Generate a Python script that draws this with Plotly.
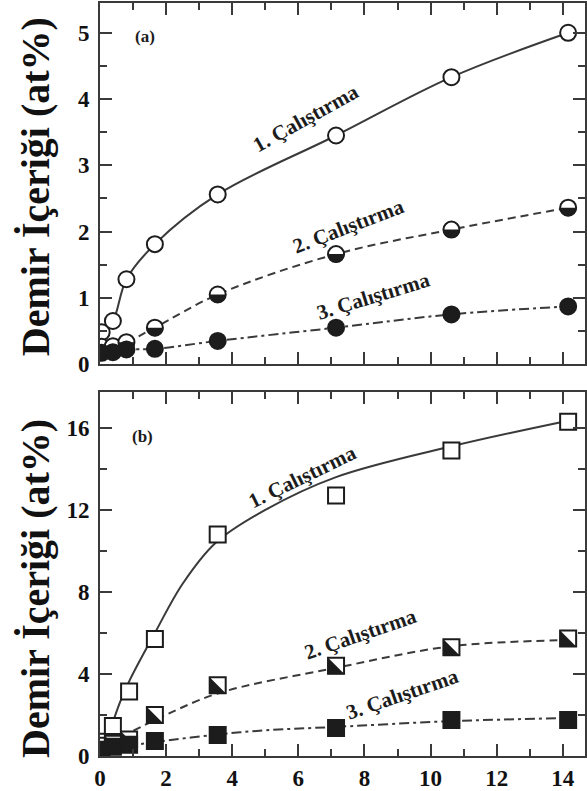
import plotly.graph_objects as go

# ---------------- data ----------------
# Panel (a): circles
xa = [0.05, 0.39, 0.80, 1.66, 3.56, 7.14, 10.63, 14.16]
a_run1 = [0.48, 0.65, 1.28, 1.81, 2.56, 3.45, 4.33, 5.00]
a_run2 = [0.26, 0.27, 0.33, 0.55, 1.05, 1.66, 2.03, 2.36]
a_run3 = [0.17, 0.18, 0.22, 0.23, 0.35, 0.55, 0.75, 0.87]

# Panel (b): squares
xb = [0.05, 0.39, 0.88, 1.66, 3.56, 7.14, 10.63, 14.16]
b_run1 = [0.70, 1.46, 3.15, 5.70, 10.80, 12.70, 14.90, 16.30]
b_run2 = [0.50, 0.60, 0.80, 2.00, 3.45, 4.40, 5.30, 5.73]
b_run3 = [0.30, 0.45, 0.55, 0.73, 1.02, 1.36, 1.75, 1.75]

# Panel (b): fitted curves
fb1_x = [0.30, 0.60, 0.90, 1.66, 2.50, 3.50, 5.00, 7.14, 10.63, 14.16]
fb1_y = [1.20, 2.60, 3.70, 6.00, 8.40, 10.40, 12.00, 13.60, 15.10, 16.35]
fb2_x = [0.30, 0.90, 1.66, 3.56, 7.14, 10.63, 14.16]
fb2_y = [0.70, 1.15, 1.75, 3.05, 4.30, 5.35, 5.65]
fb3_x = [0.20, 0.90, 1.66, 3.56, 5.00, 7.14, 10.63, 14.16]
fb3_y = [0.30, 0.50, 0.68, 1.05, 1.25, 1.42, 1.70, 1.85]

run_labels = ["1. Çalıştırma", "2. Çalıştırma", "3. Çalıştırma"]
y_title = "Demir İçeriği (at%)"
x_ticks = [0, 2, 4, 6, 8, 10, 12, 14]
ya_ticks = [0, 1, 2, 3, 4, 5]
yb_ticks = [0, 4, 8, 12, 16]

# ---------------- styling ----------------
INK = "#1c1c1c"
LINE = "#3a3a3a"
FONT = "Times New Roman, Liberation Serif, serif"
MS = 16

fig = go.Figure()

def line(x, y, dash, xa_, ya_):
    fig.add_trace(go.Scatter(x=x, y=y, mode="lines", xaxis=xa_, yaxis=ya_,
                             line=dict(color=LINE, width=2, dash=dash, shape="spline", smoothing=1.0),
                             hoverinfo="skip", showlegend=False))

def markers(x, y, symbol, fill, xa_, ya_):
    fig.add_trace(go.Scatter(x=x, y=y, mode="markers", xaxis=xa_, yaxis=ya_,
                             marker=dict(symbol=symbol, size=MS, color=fill,
                                         line=dict(color=INK, width=2)),
                             showlegend=False))

# panel (a) lines through points
line(xa, a_run1, "solid", "x", "y")
line(xa, a_run2, "8px,5px", "x", "y")
line(xa, a_run3, "10px,4px,3px,4px", "x", "y")
# panel (b) fitted curves
line(fb1_x, fb1_y, "solid", "x2", "y2")
line(fb2_x, fb2_y, "8px,5px", "x2", "y2")
line(fb3_x, fb3_y, "10px,4px,3px,4px", "x2", "y2")

markers(xa, a_run1, "circle", "white", "x", "y")
markers(xa, a_run2, "circle", "white", "x", "y")
markers(xa, a_run3, "circle", INK, "x", "y")
markers(xb, b_run1, "square", "white", "x2", "y2")
markers(xb, b_run2, "square", "white", "x2", "y2")
markers(xb, b_run3, "square", INK, "x2", "y2")

# half-black markers drawn as pixel-sized shapes anchored at the data points
r = MS / 2 + 0.5
k = 0.5523 * r
half_circle = (f"M {-r},0 C {-r},{-k} {-k},{-r} 0,{-r} "
               f"C {k},{-r} {r},{-k} {r},0 Z")
a = MS / 2 + 0.5
half_square = f"M {-a},{a} L {-a},{-a} L {a},{-a} Z"
shapes = []
for x, y in zip(xa, a_run2):
    shapes.append(dict(type="path", xref="x", yref="y", xsizemode="pixel", ysizemode="pixel",
                       xanchor=x, yanchor=y, path=half_circle,
                       fillcolor=INK, line=dict(width=0), layer="above"))
for x, y in zip(xb, b_run2):
    shapes.append(dict(type="path", xref="x2", yref="y2", xsizemode="pixel", ysizemode="pixel",
                       xanchor=x, yanchor=y, path=half_square,
                       fillcolor=INK, line=dict(width=0), layer="above"))

ann = []
lab_font = dict(family=FONT, size=21, color=INK, weight="bold")
ann += [
    dict(x=6.23, y=3.72, xref="x", yref="y", text=run_labels[0], textangle=-29, showarrow=False, font=lab_font),
    dict(x=7.53, y=2.08, xref="x", yref="y", text=run_labels[1], textangle=-21, showarrow=False, font=lab_font),
    dict(x=8.28, y=1.02, xref="x", yref="y", text=run_labels[2], textangle=-17, showarrow=False, font=lab_font),
    dict(x=6.11, y=13.60, xref="x2", yref="y2", text=run_labels[0], textangle=-26, showarrow=False, font=lab_font),
    dict(x=7.89, y=5.95, xref="x2", yref="y2", text=run_labels[1], textangle=-19, showarrow=False, font=lab_font),
    dict(x=9.16, y=3.00, xref="x2", yref="y2", text=run_labels[2], textangle=-19, showarrow=False, font=lab_font),
]
pan_font = dict(family=FONT, size=17, color=INK, weight="bold")
ann += [
    dict(x=1.36, y=4.94, xref="x", yref="y", text="(a)", showarrow=False, font=pan_font),
    dict(x=1.30, y=15.56, xref="x2", yref="y2", text="(b)", showarrow=False, font=pan_font),
]
tit_font = dict(family=FONT, size=40, color="#111", weight="bold")
ann += [
    dict(x=-0.133, y=0.756, xref="paper", yref="paper", text=y_title, textangle=-90,
         showarrow=False, font=tit_font, xanchor="center", yanchor="middle"),
    dict(x=-0.133, y=0.2225, xref="paper", yref="paper", text=y_title, textangle=-90,
         showarrow=False, font=tit_font, xanchor="center", yanchor="middle"),
]

tick_font = dict(family=FONT, size=23, color="#111", weight="bold")
axis_common = dict(showline=True, linecolor=LINE, linewidth=2, mirror="ticks",
                   ticks="inside", ticklen=12, tickwidth=1.5, tickcolor=LINE,
                   showgrid=False, zeroline=False, tickfont=tick_font)

fig.update_layout(
    width=587, height=791,
    margin=dict(l=100, r=0, t=3, b=33),
    paper_bgcolor="white", plot_bgcolor="white",
    showlegend=False,
    shapes=shapes, annotations=ann,
    xaxis=dict(domain=[0, 1], anchor="y", range=[0, 14.67], tickvals=x_ticks,
               showticklabels=False,
               minor=dict(dtick=1, tick0=0, ticks="inside", ticklen=7, tickwidth=1.5, tickcolor=LINE),
               **axis_common),
    yaxis=dict(domain=[0.5205, 1], anchor="x", range=[0, 5.45], tickvals=ya_ticks,
               ticklabelstandoff=4,
               minor=dict(dtick=0.5, tick0=0, ticks="inside", ticklen=7, tickwidth=1.5, tickcolor=LINE),
               **axis_common),
    xaxis2=dict(domain=[0, 1], anchor="y2", range=[0, 14.67], tickvals=x_ticks,
                minor=dict(dtick=1, tick0=0, ticks="inside", ticklen=7, tickwidth=1.5, tickcolor=LINE),
                **axis_common),
    yaxis2=dict(domain=[0, 0.4834], anchor="x2", range=[0, 17.75], tickvals=yb_ticks,
                ticklabelstandoff=4,
                minor=dict(dtick=2, tick0=0, ticks="inside", ticklen=7, tickwidth=1.5, tickcolor=LINE),
                **axis_common),
)

fig.write_html("out.html")
